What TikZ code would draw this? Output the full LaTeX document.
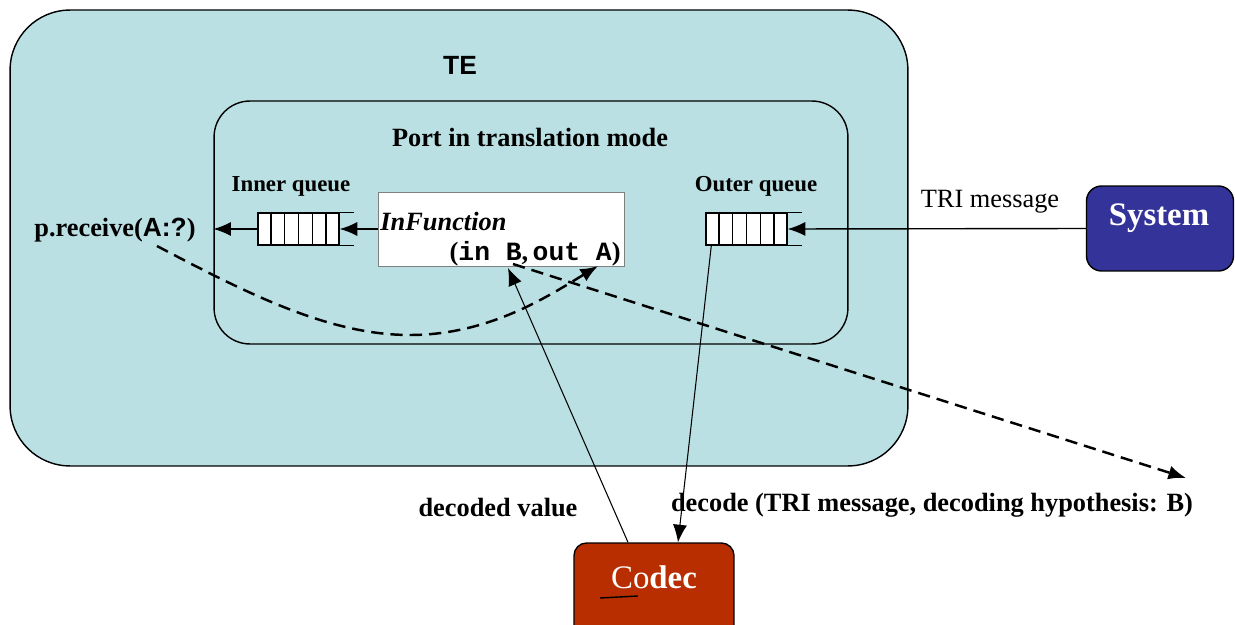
\documentclass[tikz,border=0pt]{standalone}
\usepackage{fontspec}
\setmainfont{Liberation Serif}
\setsansfont{Liberation Sans}
\setmonofont{Liberation Mono}
\usetikzlibrary{arrows.meta,calc}
\definecolor{tefill}{RGB}{186,224,227}
\definecolor{sysblue}{RGB}{51,51,153}
\definecolor{codecred}{RGB}{184,46,0}
\tikzset{
  queue/.style={draw,fill=white,minimum width=1.62cm,minimum height=0.64cm,inner sep=0pt},
  lbl/.style={font=\fontsize{15}{18}\selectfont\bfseries},
  qlbl/.style={font=\fontsize{13}{15}\selectfont\bfseries},
  bigtxt/.style={text=white,font=\fontsize{18.7}{22}\selectfont},
  hyp/.style={->,dashed,dash pattern=on 7pt off 4pt,line width=1.4pt},
}
\begin{document}
\begin{tikzpicture}[x=0.02cm,y=-0.02cm,>={Latex[length=10pt,width=8pt]},thick]
\useasboundingbox (0,0) rectangle (1235,625);
% boxes
\node[draw,fill=tefill,rounded corners=1.2cm,minimum width=17.96cm,minimum height=9.12cm] (te) at (459,238) {};
\node[font=\sffamily\bfseries\fontsize{15}{18}\selectfont] (telbl) at (460,65) {TE};
\node[draw,rounded corners=0.72cm,minimum width=12.68cm,minimum height=4.86cm] (port) at (531,222.5) {};
\node[lbl] (portlbl) at (530,137) {Port in translation mode};
\node[draw=gray,thin,fill=white,minimum width=4.92cm,minimum height=1.48cm] (infun) at (501,229) {};
\node[lbl,anchor=west,inner sep=1pt] (fname) at (378,222) {\itshape InFunction};
\node[lbl,anchor=east,inner sep=1pt] (fargs) at (623,254) {(\texttt{in B},\,\texttt{out A})};
% queues
\node[queue] (inq) at (298.5,229) {};
\node[queue] (outq) at (746.5,229) {};
\foreach \q in {inq,outq}{
  \foreach \i in {1,...,5}
    \draw ($(\q.north west)!\i/6!(\q.north east)$) -- ($(\q.south west)!\i/6!(\q.south east)$);
  \draw (\q.north east) -- ++(14,0) (\q.south east) -- ++(14,0);
}
\node[qlbl] (inqlbl) at (291,186) {Inner queue};
\node[qlbl] (outqlbl) at (756,186) {Outer queue};
\node[lbl] (recv) at (115,230) {p.receive(\textsf{A:?})};
% system and codec
\node[draw,fill=sysblue,rounded corners=0.3cm,minimum width=2.94cm,minimum height=1.7cm] (sys) at (1160,228.5) {};
\node[bigtxt,font=\bfseries\fontsize{18.7}{22}\selectfont] (systxt) at (1159,218) {System};
\node[font=\fontsize{15}{18}\selectfont] (trilbl) at (990,202) {TRI message};
\node[draw,fill=codecred,rounded corners=0.25cm,minimum width=3.2cm,minimum height=1.94cm] (codec) at (654,591.5) {};
\node[bigtxt] (codectxt) at (654,577) {Co\textbf{dec}};
\draw (600,598) -- (638,596);
% connectors
\draw[->] (infun.west) -- (inq.east);
\draw[->] (inq.west) -- (inq.west -| port.west);
\draw[->] (sys.west) -- (outq.east);
\coordinate (bpt) at (508,268);
\draw[->,semithick] ($(codec.north)-(26,0)$) -- (bpt);
\draw[->,semithick] ($(outq.south west)+(6,0)$) -- ($(codec.north)+(24,0)$);
\node[lbl] (declbl) at (498,508) {decoded value};
\node[lbl] (hyplbl) at (932,505) {decode (TRI message, decoding hypothesis: B)};
% dashed hypotheses
\coordinate (dstart) at (157,246);
\coordinate (dmid) at (410,335);
\coordinate (aend) at (598,266);
\coordinate (bcomma) at (513,264);
\coordinate (hypend) at (1186,478);
\draw[hyp] (dstart) .. controls (250,295) and (330,335) .. (dmid)
  .. controls (490,335) and (550,295) .. (aend);
\draw[hyp] (bcomma) -- (hypend);
\end{tikzpicture}
\end{document}
